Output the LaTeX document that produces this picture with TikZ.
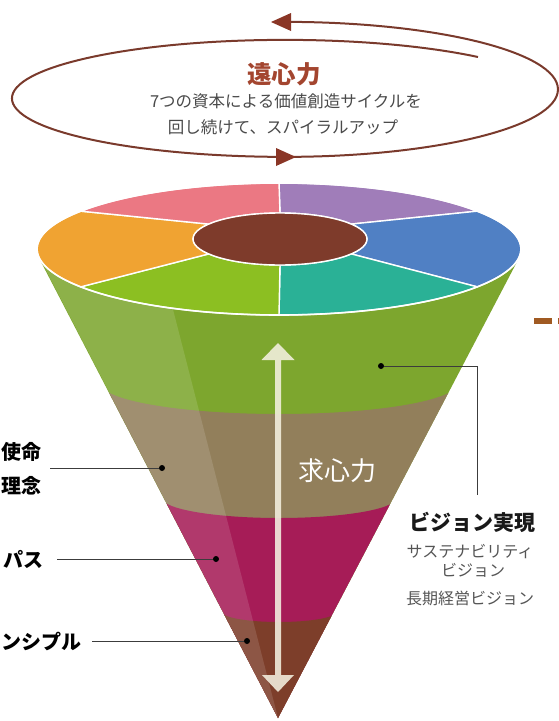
\documentclass[tikz,border=0pt]{standalone}
\usepackage{fontspec}
\newfontfamily\jp{Noto Sans CJK JP}
\usetikzlibrary{calc}
\definecolor{cycc}{HTML}{7A3A2C}
\definecolor{cyca}{HTML}{8A3626}
\definecolor{titc}{HTML}{A3452F}
\definecolor{bodyc}{HTML}{4A4A4A}
\definecolor{subc}{HTML}{555555}
\definecolor{cgreen}{HTML}{7DA62E}
\definecolor{ctan}{HTML}{927F5B}
\definecolor{cmag}{HTML}{A61C57}
\definecolor{cbrown}{HTML}{7D3E2A}
\definecolor{spink}{HTML}{EB7883}
\definecolor{spurple}{HTML}{A07DB9}
\definecolor{sblue}{HTML}{5080C4}
\definecolor{steal}{HTML}{2AB196}
\definecolor{sgreen}{HTML}{8CBF22}
\definecolor{sorange}{HTML}{F0A332}
\definecolor{score}{HTML}{7E3B2B}
\definecolor{arrc}{HTML}{F4F0E0}
\definecolor{leadc}{HTML}{3C3C3C}
\definecolor{dashc}{HTML}{A05A22}
\newcommand\ringseg[3]{\filldraw[seg, fill=#3] ($(279,249)+(#1:242 and 66)$) arc[start angle=#1, end angle=#2, x radius=242, y radius=66] -- ($(280,239)+(#2:87 and 26)$) arc[start angle=#2, end angle=#1, x radius=87, y radius=26] -- cycle;}
\begin{document}
\begin{tikzpicture}[x=1pt,y=1pt,yscale=-1,
  jpt/.style={inner sep=0pt},
  seg/.style={draw=white, line width=1.4pt, line join=round},
  leader/.style={draw=leadc, line width=0.9pt},
  dotn/.style={circle, fill=black, inner sep=0pt, minimum size=6pt},
  cyc/.style={draw=cycc, line width=2pt},
  lbl/.style={jpt, text=black, font={\jp\bfseries\fontsize{20pt}{24pt}\selectfont}},
  sub/.style={jpt, text=subc, font={\jp\fontsize{16pt}{19pt}\selectfont}},
  body/.style={jpt, text=bodyc, font={\jp\fontsize{16.5pt}{19pt}\selectfont}}]
\useasboundingbox (0,0) rectangle (559,721);
\clip (0,0) rectangle (559,721);

% spiral of the centrifugal force
\coordinate (sp0) at (478,57);
\draw[cyc] (sp0) arc[start angle=-45, end angle=-270, x radius=273, y radius=58.5]
  arc[start angle=90, end angle=-90, x radius=273, y radius=67.5];
\coordinate (ah1) at (296,157);
\fill[cyca] (ah1) -- ++(-20,-9) -- ++(0,18) -- cycle;
\coordinate (ah2) at (271,22);
\fill[cyca] (ah2) -- ++(20,-9) -- ++(0,18) -- cycle;
\node[jpt, text=titc, font={\jp\bfseries\fontsize{24.5pt}{28pt}\selectfont}] (t1) at (284,74) {遠心力};
\node[body] (t2) at (286,101) {7つの資本による価値創造サイクルを};
\node[body] (t3) at (283,127) {回し続けて、スパイラルアップ};

% cone body
\begin{scope}
\clip (39,258) -- (278,718) -- (519,258) -- cycle;
\fill[cgreen] (0,180) rectangle (559,721);
\fill[ctan] (0,383) -- (100,383) arc[start angle=180,end angle=0,x radius=179,y radius=31] -- (559,383) -- (559,721) -- (0,721) -- cycle;
\fill[cmag] (0,498) -- (162,498) arc[start angle=180,end angle=0,x radius=117,y radius=20] -- (559,498) -- (559,721) -- (0,721) -- cycle;
\fill[cbrown] (0,612) -- (222,612) arc[start angle=180,end angle=0,x radius=57,y radius=10] -- (559,612) -- (559,721) -- (0,721) -- cycle;
\fill[white, opacity=0.13] (20,220) -- (278,718) -- (150,220) -- cycle;
\end{scope}

% top disk
\ringseg{-90}{-35}{spurple}
\ringseg{-35}{35}{sblue}
\ringseg{35}{90}{steal}
\ringseg{90}{145}{sgreen}
\ringseg{145}{215}{sorange}
\ringseg{215}{270}{spink}
\draw[white, line width=1.6pt] (279,249) ellipse[x radius=242, y radius=66];
\filldraw[fill=score, draw=white, line width=1.4pt] (280,239) ellipse[x radius=87, y radius=26];

% vertical double arrow
\coordinate (vt) at (278,343);
\coordinate (vb) at (278,692);
\fill[arrc, fill opacity=0.88] (vt) -- ($(vt)+(16.5,17)$) -- ($(vt)+(3,17)$) -- ($(vb)+(3,-17)$) -- ($(vb)+(16,-17)$) -- (vb) -- ($(vb)+(-16,-17)$) -- ($(vb)+(-3,-17)$) -- ($(vt)+(-3,17)$) -- ($(vt)+(-16.5,17)$) -- cycle;
\node[jpt, text=white, font={\jp\fontsize{26pt}{30pt}\selectfont}] (kyu) at (337,471) {求心力};

% right label
\node[dotn] (d1) at (381,366) {};
\coordinate (c1) at (477,495);
\draw[leader] (d1) -| (c1);
\node[jpt, text=black!90, font={\jp\bfseries\fontsize{21pt}{24pt}\selectfont}] (vis) at (472,522) {ビジョン実現};
\node[sub] (s1) at (470,552) {サステナビリティ};
\node[sub] (s2) at (473,570) {ビジョン};
\node[sub] (s3) at (470,598) {長期経営ビジョン};

% left labels
\node[lbl, anchor=east] (shimei) at (42,452) {使命};
\node[lbl, anchor=east] (rinen) at (42,486) {理念};
\node[dotn] (d2) at (162,468) {};
\coordinate (l2) at (50,468);
\draw[leader] (l2) -- (d2);
\node[lbl, anchor=east] (pasu) at (44,559) {パス};
\node[dotn] (d3) at (216,559) {};
\coordinate (l3) at (57,559);
\draw[leader] (l3) -- (d3);
\node[lbl, anchor=east] (prin) at (82,642) {ンシプル};
\node[dotn] (d4) at (247,641) {};
\coordinate (l4) at (92,641);
\draw[leader] (l4) -- (d4);

% brown dash at right edge
\coordinate (ds1) at (534,321);
\coordinate (ds2) at (580,321);
\draw[dashc, line width=5.5pt, dash pattern=on 18pt off 6pt] (ds1) -- (ds2);
\end{tikzpicture}
\end{document}
